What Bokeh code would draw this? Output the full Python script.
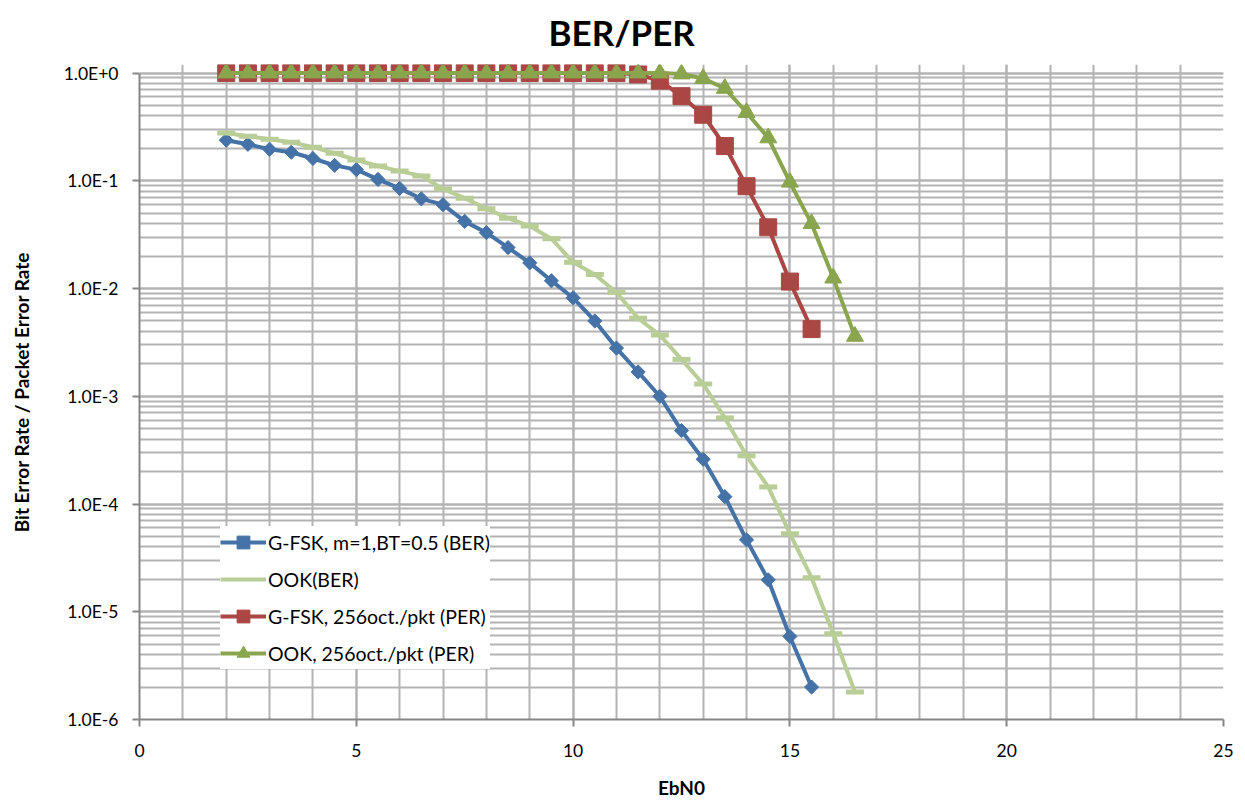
import math
from bokeh.plotting import figure
from bokeh.models import FixedTicker, Legend, LegendItem, CustomJSTickFormatter
from bokeh.embed import file_html
from bokeh.resources import INLINE

# ---------------- data ----------------
x_gfsk = [2, 2.5, 3, 3.5, 4, 4.5, 5, 5.5, 6, 6.5, 7, 7.5, 8, 8.5, 9, 9.5,
          10, 10.5, 11, 11.5, 12, 12.5, 13, 13.5, 14, 14.5, 15, 15.5]
x_ook = [2, 2.5, 3, 3.5, 4, 4.5, 5, 5.5, 6, 6.5, 7, 7.5, 8, 8.5, 9, 9.5,
         10, 10.5, 11, 11.5, 12, 12.5, 13, 13.5, 14, 14.5, 15, 15.5, 16, 16.5]

gfsk_ber = [0.238, 0.218, 0.196, 0.184, 0.161, 0.139, 0.127, 0.103, 0.085, 0.068,
            0.060, 0.042, 0.033, 0.024, 0.0173, 0.0118, 0.0082, 0.0050, 0.0028,
            0.00168, 0.00100, 0.00048, 0.00026, 0.000117, 4.65e-5, 1.98e-5,
            5.9e-6, 2.0e-6]
ook_ber = [0.278, 0.259, 0.243, 0.228, 0.205, 0.180, 0.156, 0.137, 0.123, 0.111,
           0.084, 0.069, 0.055, 0.045, 0.038, 0.029, 0.0175, 0.0135, 0.0092,
           0.0053, 0.0037, 0.0022, 0.0013, 0.00063, 0.00028, 0.000144, 5.3e-5,
           2.07e-5, 6.25e-6, 1.8e-6]
gfsk_per = [1.0, 1.0, 1.0, 1.0, 1.0, 1.0, 1.0, 1.0, 1.0, 1.0, 1.0, 1.0, 1.0, 1.0,
            1.0, 1.0, 1.0, 1.0, 1.0, 0.97, 0.85, 0.61, 0.41, 0.21, 0.089, 0.037,
            0.0116, 0.0042]
ook_per = [1.0, 1.0, 1.0, 1.0, 1.0, 1.0, 1.0, 1.0, 1.0, 1.0, 1.0, 1.0, 1.0, 1.0,
           1.0, 1.0, 1.0, 1.0, 1.0, 1.0, 1.0, 0.98, 0.89, 0.72, 0.43, 0.25, 0.097,
           0.040, 0.0125, 0.0036]

title_text = "BER/PER"
series_labels = ["G-FSK, m=1,BT=0.5 (BER)", "OOK(BER)",
                 "G-FSK, 256oct./pkt (PER)", "OOK, 256oct./pkt (PER)"]

x_ticks = [0, 5, 10, 15, 20, 25]
x_minor = list(range(0, 26))
y_tick_values = [1e-6, 1e-5, 1e-4, 1e-3, 1e-2, 1e-1, 1.0]
y_tick_labels = ["1.0E-6", "1.0E-5", "1.0E-4", "1.0E-3", "1.0E-2", "1.0E-1", "1.0E+0"]
y_minor = [m * d for d in y_tick_values[:-1] for m in range(1, 10)] + [1.0]

# ---------------- styles ----------------
FONT = "Lato"
BLUE = "#4572A7"
LGREEN = "#B9CD96"
RED = "#AA4643"
GREEN = "#89A54E"
GRID = "#b3b3b3"
AXIS = "#868686"

p = figure(width=1245, height=801, x_range=(0, 25), y_range=(1e-6, 1.2),
           y_axis_type="log", output_backend="svg", toolbar_location=None,
           min_border_left=139, min_border_right=22, min_border_top=64,
           min_border_bottom=82)
p.outline_line_color = None
p.background_fill_color = "white"
p.border_fill_color = "white"

p.title.text = title_text
p.title.align = "left"
p.title.vertical_align = "top"
p.title.text_font = FONT
p.title.text_font_style = "bold"
p.title.text_font_size = "35px"
p.title.text_color = "black"
p.title.offset = 409
p.title.standoff = 20

xt = FixedTicker(ticks=x_ticks, minor_ticks=x_minor)
yt = FixedTicker(ticks=y_tick_values, minor_ticks=y_minor)
p.xaxis.ticker = xt
p.yaxis.ticker = yt
p.xgrid.ticker = xt
p.ygrid.ticker = yt

p.yaxis.formatter = CustomJSTickFormatter(args=dict(vals=y_tick_values, labs=y_tick_labels), code="""
const i = vals.findIndex(v => Math.abs(Math.log10(v) - Math.log10(tick)) < 1e-6);
return i >= 0 ? labs[i] : "";
""")
p.yaxis.bounds = (1e-6, 1.0)

for ax in (p.xaxis, p.yaxis):
    ax.axis_line_color = AXIS
    ax.axis_line_width = 2
    ax.major_tick_line_color = AXIS
    ax.major_tick_line_width = 2
    ax.major_tick_out = 7
    ax.major_tick_in = 0
    ax.minor_tick_out = 0
    ax.minor_tick_in = 0
    ax.major_label_text_font = FONT
    ax.major_label_text_font_size = "17.5px"
    ax.major_label_text_color = "black"
    ax.axis_label_text_font = FONT
    ax.axis_label_text_font_style = "bold"
    ax.axis_label_text_color = "black"

p.xaxis.axis_label = "EbN0"
p.xaxis.axis_label_text_font_size = "19px"
p.xaxis.major_label_standoff = 17
p.xaxis.axis_label_standoff = 16

p.yaxis.axis_label = "Bit Error Rate / Packet Error Rate"
p.yaxis.axis_label_text_font_size = "19px"
p.yaxis.major_label_standoff = 14
p.yaxis.axis_label_standoff = 28

for g in (p.xgrid, p.ygrid):
    g.grid_line_color = GRID
    g.grid_line_width = 2
    g.minor_grid_line_color = GRID
    g.minor_grid_line_width = 2

# ---------------- series ----------------
l1 = p.line(x_gfsk, gfsk_ber, line_color=BLUE, line_width=4)
m1 = p.scatter(x_gfsk, gfsk_ber, marker="square", angle=math.pi / 4, size=10,
               fill_color=BLUE, line_color=BLUE)
l2 = p.line(x_ook, ook_ber, line_color=LGREEN, line_width=4)
m2 = p.scatter(x_ook, ook_ber, marker="dash", size=18, line_color=LGREEN, line_width=5)
l3 = p.line(x_gfsk, gfsk_per, line_color=RED, line_width=4)
m3 = p.scatter(x_gfsk, gfsk_per, marker="square", size=17, fill_color=RED, line_color=RED)
l4 = p.line(x_ook, ook_per, line_color=GREEN, line_width=4)
m4 = p.scatter(x_ook, ook_per, marker="triangle", size=17, fill_color=GREEN, line_color=GREEN)

legend = Legend(items=[
    LegendItem(label=series_labels[0], renderers=[l1, m1]),
    LegendItem(label=series_labels[1], renderers=[l2]),
    LegendItem(label=series_labels[2], renderers=[l3, m3]),
    LegendItem(label=series_labels[3], renderers=[l4, m4]),
], location=(81, 50), glyph_width=46, glyph_height=32, spacing=5, padding=6,
    margin=0, label_standoff=2, border_line_color=None,
    background_fill_color="white", background_fill_alpha=1.0,
    label_text_font=FONT, label_text_font_size="19.5px", label_text_color="black")
p.add_layout(legend)

open("out.html", "w").write(file_html(p, INLINE))
